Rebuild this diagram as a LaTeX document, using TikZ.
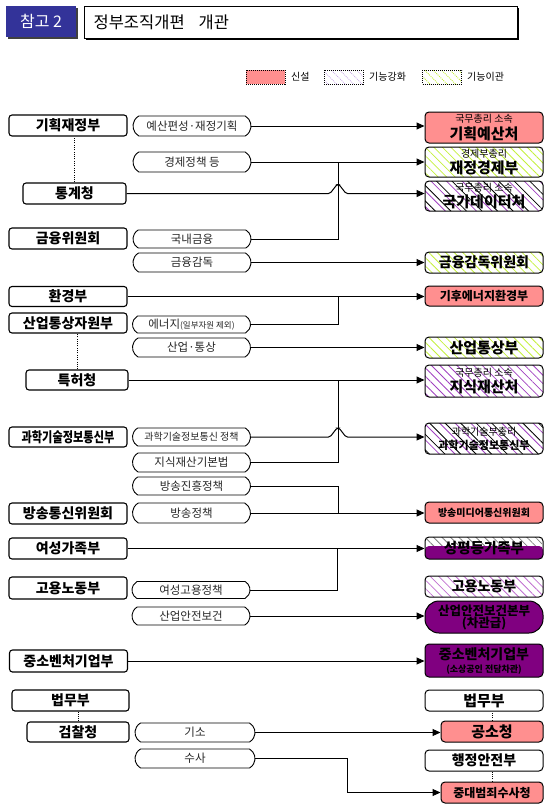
\documentclass[tikz,border=0pt]{standalone}
\usepackage{fontspec}
\setmainfont{Noto Sans CJK KR}
\usepackage{graphicx}
\usetikzlibrary{arrows.meta,shapes.misc,patterns.meta,calc}
\definecolor{hdrblue}{HTML}{333399}
\definecolor{newpink}{HTML}{FF8F8F}
\definecolor{cLime}{HTML}{C4F03C}
\definecolor{cPurp}{HTML}{A040C0}
\definecolor{cPurpL}{HTML}{C070D0}
\definecolor{cLav}{HTML}{C8A8E8}
\definecolor{cDeep}{HTML}{800080}
\begin{document}
\begin{tikzpicture}[x=1pt,y=-1pt,
  lbox/.style={draw, line width=1.1pt, rounded corners=3pt, minimum height=21pt, minimum width=118pt, inner sep=0pt, font=\fontsize{14}{14}\selectfont\bfseries},
  pill/.style={draw, line width=0.9pt, rounded rectangle, rounded rectangle arc length=120, minimum height=19pt, minimum width=118pt, inner sep=0pt, text=black!85, font=\fontsize{11.5}{12}\selectfont},
  rbox/.style={draw, line width=1pt, rounded corners=4pt, minimum width=118pt, inner sep=0pt, align=center, font=\fontsize{14}{13}\selectfont\bfseries},
  pinkfill/.style={fill=newpink},
  greenhatch/.style={pattern={Lines[angle=-45,distance=6pt,line width=0.8pt]}, pattern color=cLime},
  purphatch/.style={pattern={Lines[angle=-45,distance=6pt,line width=0.8pt]}, pattern color=cPurp},
  purplhatch/.style={pattern={Lines[angle=-45,distance=6pt,line width=0.8pt]}, pattern color=cPurpL},
  pbhatch/.style={preaction={pattern={Lines[angle=-45,distance=11pt,line width=0.8pt]}, pattern color=cPurp},
                  pattern={Lines[angle=-45,distance=11pt,line width=0.8pt,yshift=5.5pt]}, pattern color=black},
  deepfill/.style={fill=cDeep},
  ln/.style={line width=1pt},
  arr/.style={ln, -{Triangle[length=8pt,width=7pt]}},
  dots/.style={line width=1pt, dash pattern=on 1pt off 1.3pt},
  legbox/.style={draw, line width=0.8pt, dash pattern=on 1pt off 1pt, minimum width=39pt, minimum height=14pt, inner sep=0pt},
  legtxt/.style={anchor=west, inner sep=0pt, font=\fontsize{10}{10}\selectfont}
]
\useasboundingbox (0,0) rectangle (550,808);

% header
\fill[black!75] (8,8) rectangle (78,39);
\node[fill=hdrblue, minimum width=70pt, minimum height=31pt, inner sep=0pt, text=white, font=\fontsize{16}{16}\selectfont] (hd) at (41,21.5) {참고 2};
\fill[black] (86,8) rectangle (519,40);
\node[draw, line width=1.2pt, fill=white, anchor=north west, minimum height=32pt, text width=415pt, inner xsep=9pt, inner ysep=0pt, align=left, font=\fontsize{16.5}{16.5}\selectfont] (ti) at (84,6) {정부조직개편\hspace{14pt}개관};

% legend
\node[legbox, pinkfill] (lg1) at (265.5,77) {};
\node[legtxt] (lt1) at (291,77) {신설};
\node[legbox, pattern={Lines[angle=-45,distance=6pt,line width=0.8pt]}, pattern color=cLav] (lg2) at (343.5,77) {};
\node[legtxt] (lt2) at (369,77) {기능강화};
\node[legbox, greenhatch] (lg3) at (442,77) {};
\node[legtxt] (lt3) at (467,77) {기능이관};

% left boxes
\node[lbox] (lA) at (68,125.5) {기획재정부};
\node[lbox, minimum width=103pt] (lB) at (74.5,193.5) {통계청};
\node[lbox] (lC) at (68,238.5) {금융위원회};
\node[lbox, minimum height=20pt] (lD) at (68,296.5) {환경부};
\node[lbox, minimum height=20pt] (lE) at (68,323) {산업통상자원부};
\node[lbox, minimum width=102pt, minimum height=20pt] (lF) at (77,380) {특허청};
\node[lbox, minimum height=20pt] (lG) at (68,437) {\scalebox{0.8}[1]{과학기술정보통신부}};
\node[lbox] (lH) at (68,513.5) {방송통신위원회};
\node[lbox] (lI) at (68,548.5) {여성가족부};
\node[lbox, minimum height=22pt] (lJ) at (68,588) {고용노동부};
\node[lbox, minimum height=22pt] (lK) at (68.5,661) {중소벤처기업부};
\node[lbox, minimum width=117pt] (lL) at (70.5,700.5) {법무부};
\node[lbox, minimum width=102pt, minimum height=20pt] (lM) at (78,732) {검찰청};

\draw[dots] (lB.north) -- (lB.north |- lA.south);
\draw[dots] (lF.north) -- (lF.north |- lE.south);
\draw[dots] (lM.north) -- (lM.north |- lL.south);

% pills
\node[pill, minimum height=20pt] (p1) at (192,126) {예산편성·재정기획};
\node[pill, minimum height=20pt] (p2) at (192,162) {경제정책 등};
\node[pill, minimum height=18pt] (p3) at (192,239) {국내금융};
\node[pill] (p4) at (192,262.5) {금융감독};
\node[pill, minimum height=17pt] (p5) at (191.5,324.5) {에너지{\fontsize{8.5}{9}\selectfont(일부자원 제외)}};
\node[pill] (p6) at (191.5,347.5) {산업·통상};
\node[pill, minimum height=18pt, font=\fontsize{10}{10}\selectfont] (p7) at (191.5,437) {과학기술정보통신 정책};
\node[pill] (p8) at (191.5,462.5) {지식재산기본법};
\node[pill, minimum height=18pt] (p9) at (191.5,486) {방송진흥정책};
\node[pill, minimum height=20pt] (p10) at (191.5,513) {방송정책};
\node[pill, minimum height=17pt] (p11) at (191,590) {여성고용정책};
\node[pill, minimum height=18pt] (p12) at (191,616) {산업안전보건};
\node[pill, minimum width=120pt] (p13) at (195,732.5) {기소};
\node[pill, minimum width=120pt] (p14) at (195,758.5) {수사};

% right boxes
\node[rbox, pinkfill, minimum height=31pt] (r1) at (484,127.5) {{\fontsize{10}{11}\selectfont\mdseries 국무총리 소속}\\[2pt]{\fontsize{15}{15}\selectfont 기획예산처}};
\node[rbox, greenhatch, minimum height=30pt] (r2) at (484,162) {{\fontsize{10}{11}\selectfont\mdseries 경제부총리}\\[1.5pt]{\fontsize{15}{15}\selectfont 재정경제부}};
\node[rbox, pbhatch, minimum height=30pt] (r3) at (484,196) {{\fontsize{10}{11}\selectfont\mdseries 국무총리 소속}\\[1.5pt]{\fontsize{15}{15}\selectfont 국가데이터처}};
\node[rbox, greenhatch, minimum height=21pt] (r4) at (484,262.5) {금융감독위원회};
\node[rbox, pinkfill, minimum height=20pt, font=\fontsize{12}{12}\selectfont\bfseries] (r5) at (484,296) {기후에너지환경부};
\node[rbox, greenhatch, minimum height=21pt, font=\fontsize{15}{15}\selectfont\bfseries] (r6) at (484,347.5) {산업통상부};
\node[rbox, purphatch, minimum height=32pt] (r7) at (484,381) {{\fontsize{10}{11}\selectfont\mdseries 국무총리 소속}\\[2pt]{\fontsize{15}{15}\selectfont 지식재산처}};
\node[rbox, pbhatch, minimum height=31pt] (r8) at (484,438.5) {{\fontsize{10}{11}\selectfont\mdseries 과학기술부총리}\\[1pt]{\fontsize{11}{11}\selectfont 과학기술정보통신부}};
\node[rbox, pinkfill, minimum height=21pt, font=\fontsize{10}{10}\selectfont\bfseries] (r9) at (484,512.5) {방송미디어통신위원회};
\node[rbox, minimum height=22pt, font=\fontsize{14.5}{14.5}\selectfont\bfseries,
  path picture={
    \fill[pattern={Lines[angle=-45,distance=6pt,line width=0.8pt]}, pattern color=gray] (path picture bounding box.north west) rectangle ($(path picture bounding box.east)+(0,-2)$);
    \fill[cDeep] ($(path picture bounding box.west)+(0,-2)$) rectangle (path picture bounding box.south east);
  }] (r10) at (484,548) {성평등가족부};
\node[rbox, purplhatch, minimum height=21pt] (r11) at (484,586.5) {고용노동부};
\node[rbox, deepfill, minimum height=32pt, rounded corners=14pt, font=\fontsize{12.5}{12}\selectfont\bfseries] (r12) at (484,617) {산업안전보건본부\\(차관급)};
\node[rbox, deepfill, minimum height=33pt] (r13) at (484,660.5) {중소벤처기업부\\[0pt]{\fontsize{9}{9}\selectfont(소상공인 전담차관)}};
\node[rbox, minimum height=21pt, font=\fontsize{15}{15}\selectfont\bfseries] (r14) at (484,700.5) {법무부};
\node[rbox, pinkfill, minimum width=102pt, minimum height=21pt, font=\fontsize{15}{15}\selectfont\bfseries] (r15) at (492,731.5) {공소청};
\node[rbox, minimum height=21pt] (r16) at (484,760.5) {행정안전부};
\node[rbox, pinkfill, minimum width=102pt, minimum height=21pt, font=\fontsize{12}{12}\selectfont\bfseries] (r17) at (492,792.5) {중대범죄수사청};

\draw[dots] (r15.north) -- (r15.north |- r14.south);
\draw[dots] (r17.north) -- (r17.north |- r16.south);

% junction columns
\coordinate (v1) at (338,0);
\coordinate (v2) at (337,0);
\coordinate (v3) at (347,0);

% connectors
\draw[arr] (p1.east) -- (p1.east -| r1.west);
\draw[arr] (p2.east) -- (p2.east -| r2.west);
\draw[ln] (p3.east) -- (p3.east -| v1) -- (p2.east -| v1);
\draw[arr, rounded corners=1.5pt] (lB.east) -- (330,193.5) -- (337,184.5) -- (339,184.5) -- (346,193.5) -- (lB.east -| r3.west);
\draw[arr] (p4.east) -- (p4.east -| r4.west);

\draw[arr] (lD.east) -- (lD.east -| r5.west);
\draw[ln] (p5.east) -- (p5.east -| v1) -- (lD.east -| v1);
\draw[arr] (p6.east) -- (p6.east -| r6.west);
\draw[arr] (lF.east) -- (lF.east -| r7.west);
\draw[ln] (p8.east) -- (p8.east -| v1) -- (lF.east -| v1);
\draw[arr, rounded corners=1.5pt] (p7.east) -- (330,437) -- (337,428) -- (339,428) -- (346,437) -- (p7.east -| r8.west);

\draw[ln] (p9.east) -- (p9.east -| v1) -- (p10.east -| v1);
\draw[arr] (p10.east) -- (p10.east -| r9.west);
\draw[arr] (lI.east) -- (lI.east -| r10.west);
\draw[ln] (p11.east) -- (p11.east -| v2) -- (lI.east -| v2);
\draw[arr] (p12.east) -- (p12.east -| r12.west);
\draw[arr] (lK.east) -- (lK.east -| r13.west);

\draw[arr] (p13.east) -- (p13.east -| r15.west);
\draw[arr] (p14.east) -- (p14.east -| v3) |- (r17.west);
\end{tikzpicture}
\end{document}
